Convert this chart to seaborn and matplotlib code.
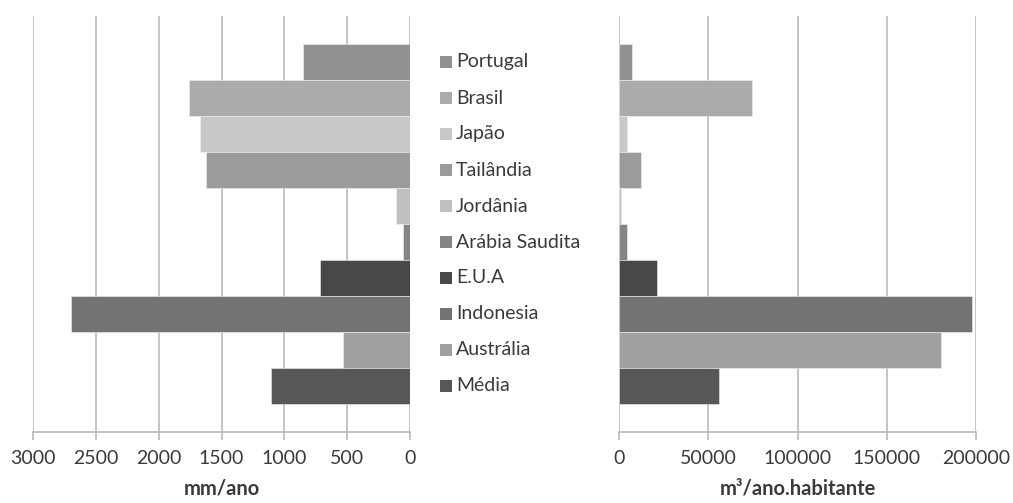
import matplotlib
matplotlib.use("Agg")
import matplotlib.pyplot as plt
import seaborn as sns
import pandas as pd

countries = ["Portugal", "Brasil", "Japão", "Tailândia", "Jordânia",
             "Arábia Saudita", "E.U.A", "Indonesia", "Austrália", "Média"]
precip_mm = [851, 1760, 1668, 1622, 111, 59, 715, 2700, 534, 1110]
water_m3 = [7300, 74300, 4600, 12500, 1000, 4600, 21100, 197800, 180200, 56000]
colors = ["#929292", "#ababab", "#c8c8c8", "#9b9b9b", "#c0c0c0",
          "#858585", "#484848", "#737373", "#a0a0a0", "#575757"]
left_ticks = [0, 500, 1000, 1500, 2000, 2500, 3000]
right_ticks = [0, 50000, 100000, 150000, 200000]
left_label = "mm/ano"
right_label = "m³/ano.habitante"

df = pd.DataFrame({"country": countries, "mm": precip_mm, "m3": water_m3})
palette = dict(zip(countries, colors))

sns.set_style("white")
plt.rcParams["font.family"] = ["Lato", "DejaVu Sans"]
text_color = "#3a3a3a"
grid_color = "#b4b4b4"

fig = plt.figure(figsize=(10.13, 5.03), dpi=100)
W, H = 1013, 503
bottom = 1 - 432 / H
top = 1 - 16 / H
ax_l = fig.add_axes([33 / W, bottom, (410 - 33) / W, top - bottom])
ax_r = fig.add_axes([619 / W, bottom, (976 - 619) / W, top - bottom])
ax_m = fig.add_axes([430 / W, bottom, (600 - 430) / W, top - bottom])

ylim = (9.5 + 28 / 36, -0.5 - 28 / 36)

for ax, col, ticks, lbl, xl in [
    (ax_l, "mm", left_ticks, left_label, (3000, 0)),
    (ax_r, "m3", right_ticks, right_label, (0, 200000)),
]:
    sns.barplot(data=df, x=col, y="country", hue="country", palette=palette,
                width=1.0, legend=False, ax=ax, orient="h", saturation=1,
                edgecolor="#f0f0f0", linewidth=0.4)
    ax.set_xlim(*xl)
    ax.set_ylim(*ylim)
    ax.set_xticks(ticks)
    ax.set_xticklabels([str(t) for t in ticks])
    ax.set_yticks([])
    ax.set_ylabel("")
    ax.set_xlabel(lbl, fontsize=14.5, fontweight="bold", color=text_color, labelpad=8)
    ax.grid(axis="x", color=grid_color, linewidth=1.1)
    ax.set_axisbelow(True)
    for s in ["left", "right", "top"]:
        ax.spines[s].set_visible(False)
    ax.spines["bottom"].set_color(grid_color)
    ax.spines["bottom"].set_linewidth(1.1)
    ax.tick_params(axis="x", direction="out", length=6, width=1.1, color=grid_color,
                   labelsize=14, labelcolor=text_color, pad=7, bottom=True)

# legend-like middle panel, drawn from the category list
ax_m.set_xlim(0, 1)
ax_m.set_ylim(*ylim)
ax_m.axis("off")
for i, (c, col) in enumerate(zip(countries, colors)):
    ax_m.scatter([(445.5 - 430) / 170], [i], marker="s", s=72, color=col, linewidths=0)
    ax_m.text((456 - 430) / 170, i, c, va="center", ha="left", fontsize=14,
              color=text_color)

fig.savefig("out.png", dpi=100)
